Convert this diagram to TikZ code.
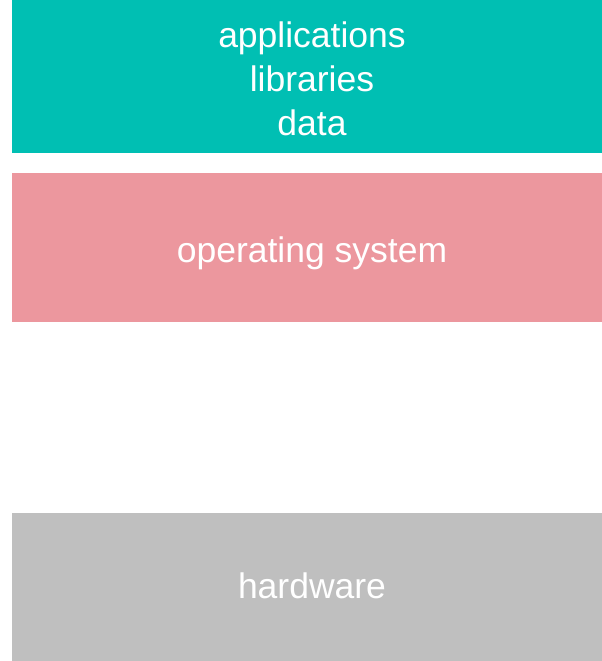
\documentclass[tikz,border=0pt]{standalone}
\usepackage{fontspec}
\setmainfont{Liberation Sans}
\definecolor{layerteal}{RGB}{0,191,179}
\definecolor{layerpink}{RGB}{236,151,158}
\definecolor{layergray}{RGB}{191,191,191}
\begin{document}
\begin{tikzpicture}[x=1pt,y=-1pt,
  label/.style={text=white,inner sep=0pt,anchor=base,align=center,
    font=\fontsize{35.5}{44}\selectfont}]
\useasboundingbox (0,0) rectangle (602,661);
% three stacked layers
\fill[layerteal] (12,0) rectangle (602,153);
\fill[layerpink] (12,173) rectangle (602,322);
\fill[layergray] (12,512.5) rectangle (602,661);
% layer captions (a multi-line node sits on the baseline of its last line)
\node[label] (apps) at (312,135) {applications\\libraries\\data};
\node[label] (os) at (312,262.3) {operating system};
\node[label] (hw) at (312,598.3) {hardware};
\end{tikzpicture}
\end{document}
